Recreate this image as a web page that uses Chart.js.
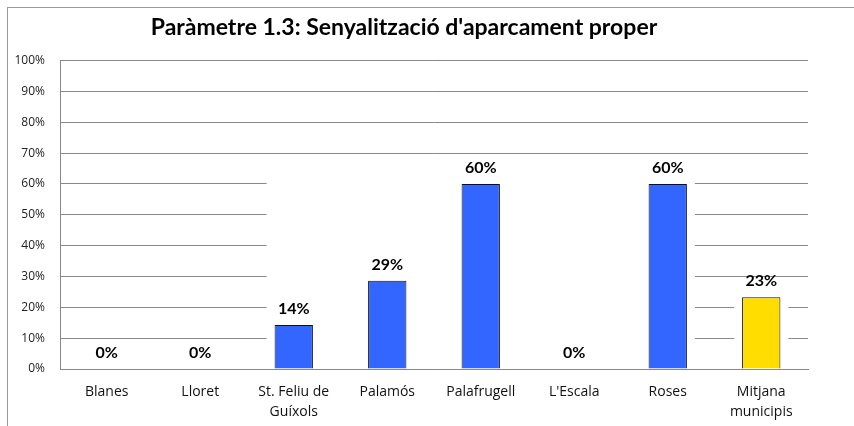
<!doctype html>
<html lang="ca">
<head>
  <meta charset="utf-8">
  <title>Paràmetre 1.3</title>
  <style>
    * { margin: 0; padding: 0; }
    body { background: white; }
    .chartBox { position: relative; width: 854px; height: 426px; }
    .frame {
      position: absolute; left: 7px; top: 7px; right: 0; bottom: 0;
      border-top: 1px solid #999; border-left: 1px solid #999;
      pointer-events: none;
    }
  </style>
</head>
<body>
<div class="chartBox">
  <canvas id="myChart" width="854" height="426"></canvas>
  <div class="frame"></div>
</div>

<script src="https://cdn.jsdelivr.net/npm/chart.js@4"></script>
<script>
  // data
  const municipis = ['Blanes', 'Lloret', ['St. Feliu de', 'Guíxols'], 'Palamós', 'Palafrugell', "L'Escala", 'Roses', ['Mitjana', 'municipis']];
  const valors = [0, 0, 14.3, 28.6, 60, 0, 60, 23.3];
  const colors = ['#3366ff', '#3366ff', '#3366ff', '#3366ff', '#3366ff', '#3366ff', '#3366ff', '#ffdd00'];
  const yTicks = [0, 10, 20, 30, 40, 50, 60, 70, 80, 90, 100];

  const FONT = 'Lato, "Open Sans", sans-serif';

  // white boxes that hide parts of the grid (as in the original sheet)
  const gridMask = {
    id: 'gridMask',
    beforeDatasetsDraw(chart) {
      const bars = chart.getDatasetMeta(0).data;
      const y = chart.scales.y;
      const boxes = [[2, 6, 65], [7, 7, 25]];
      const ctx = chart.ctx;
      ctx.save();
      ctx.fillStyle = 'white';
      boxes.forEach(([a, b, top]) => {
        const x0 = bars[a].x - bars[a].width / 2 - 8;
        const x1 = bars[b].x + bars[b].width / 2 + 8;
        const y0 = y.getPixelForValue(top);
        const y1 = y.getPixelForValue(5);
        ctx.fillRect(x0, y0, x1 - x0, y1 - y0);
      });
      ctx.restore();
    }
  };

  // value labels above bars
  const barLabels = {
    id: 'barLabels',
    afterDatasetsDraw(chart) {
      const ctx = chart.ctx;
      const bars = chart.getDatasetMeta(0).data;
      ctx.save();
      ctx.font = 'bold 16px ' + FONT;
      ctx.fillStyle = 'black';
      ctx.textAlign = 'center';
      ctx.textBaseline = 'middle';
      bars.forEach((bar, i) => {
        ctx.fillText(Math.round(valors[i]) + '%', bar.x, bar.y - 16);
      });
      ctx.restore();
    }
  };

  const config = {
    type: 'bar',
    data: {
      labels: municipis,
      datasets: [{
        data: valors,
        backgroundColor: colors,
        borderColor: '#111',
        borderWidth: 1,
        barPercentage: 0.41,
        categoryPercentage: 1
      }]
    },
    options: {
      responsive: false,
      animation: false,
      layout: { padding: { top: 14, right: 46, bottom: 4, left: 0 } },
      scales: {
        x: {
          afterFit(scale) { scale.height = 53; },
          grid: { display: false, drawTicks: false },
          border: { display: true, color: '#888' },
          ticks: {
            color: '#111',
            padding: 13,
            maxRotation: 0,
            autoSkip: false,
            font: { family: '"Open Sans", sans-serif', size: 14, lineHeight: 1.45 }
          }
        },
        y: {
          min: 0,
          max: 100,
          afterBuildTicks(scale) {
            scale.ticks = yTicks.map(v => ({ value: v }));
          },
          afterFit(scale) { scale.width = 60; },
          grid: { color: '#888', drawTicks: false },
          border: { display: true, color: '#888' },
          ticks: {
            color: '#222',
            padding: 15,
            font: { family: '"Open Sans", sans-serif', size: 12 },
            callback: v => v + '%'
          }
        }
      },
      plugins: {
        legend: { display: false },
        tooltip: { enabled: false },
        title: {
          display: true,
          text: "Paràmetre 1.3: Senyalització d'aparcament proper",
          color: '#000',
          font: { family: FONT, size: 23, weight: 'bold', lineHeight: 1.2 },
          padding: { top: 0, bottom: 19 }
        }
      }
    },
    plugins: [gridMask, barLabels]
  };

  new Chart(document.getElementById('myChart'), config);
</script>
</body>
</html>
